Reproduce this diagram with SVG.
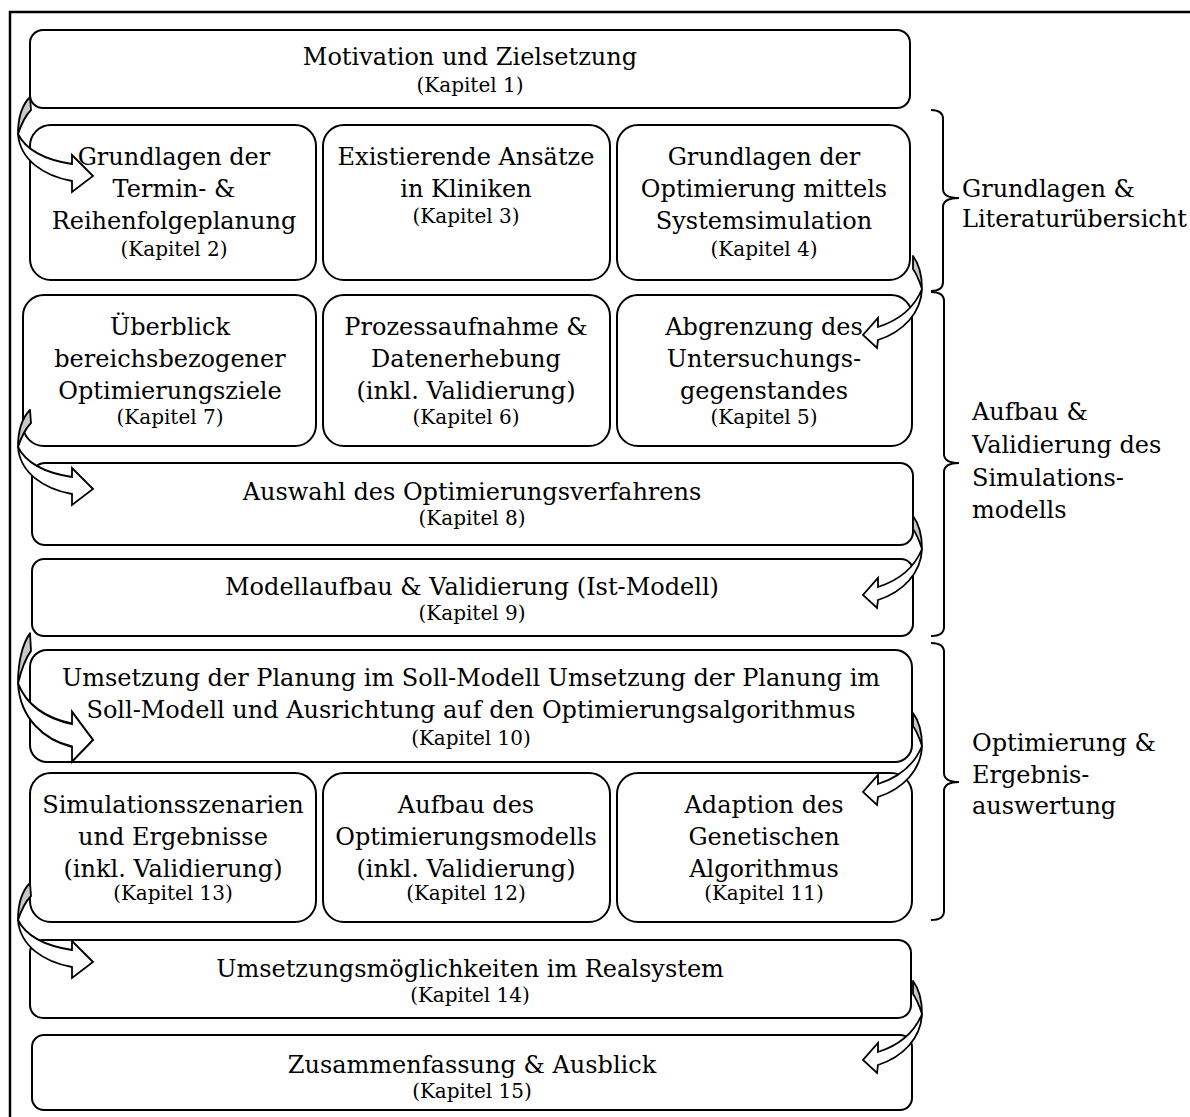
<svg xmlns="http://www.w3.org/2000/svg" width="1190" height="1117" viewBox="0 0 1190 1117">
  <defs>
    <style>
      .box { fill: #ffffff; stroke: #000000; stroke-width: 2; }
      .t { font-family: "DejaVu Serif", "Liberation Serif", serif; font-size: 24px; fill: #000000; text-anchor: middle; }
      .k { font-family: "DejaVu Serif", "Liberation Serif", serif; font-size: 20px; fill: #000000; text-anchor: middle; }
      .lbl { font-family: "DejaVu Serif", "Liberation Serif", serif; font-size: 24px; fill: #000000; }
      .brace { fill: none; stroke: #000000; stroke-width: 2; }
      .back { fill: #c8c8c8; stroke: #000000; stroke-width: 1.8; stroke-linejoin: round; }
      .front { fill: #ffffff; stroke: #000000; stroke-width: 1.8; stroke-linejoin: miter; }
    </style>
    <!-- curved arrow bending round the left side, tip at local (93,0) -->
    <g id="arrowL">
      <path class="back" d="M30,-79 C22,-71 18,-57 18,-42 C21,-51 26,-61 31,-66 Z"/>
      <path class="front" d="M18,-42 C20,-16 44,0 72,5 L72,16 L93,0 L72,-21 L72,-12 C46,-16 26,-26 18,-42 Z"/>
    </g>
    <!-- curved arrow bending round the right side, tip at local (863,0) -->
    <g id="arrowR">
      <path class="back" d="M913,-79 C919,-71 922,-59 922,-46 C919,-55 916,-62 913,-66 Z"/>
      <path class="front" d="M922,-46 C921,-22 903,-3 878,5 L877,13 L863,0 L878,-17 L878,-8 C900,-15 915,-29 922,-46 Z"/>
    </g>
  </defs>

  <rect width="1190" height="1117" fill="#ffffff"/>
  <!-- outer frame -->
  <path d="M10,1117 V12 H1190" fill="none" stroke="#000000" stroke-width="2.5"/>

  <g id="k1">
    <rect class="box" x="30" y="30" width="880" height="78" rx="13"/>
    <text class="t" x="470" y="65">Motivation und Zielsetzung</text>
    <text class="k" x="470" y="92">(Kapitel 1)</text>
  </g>

  <g id="k2">
    <rect class="box" x="30" y="125" width="286" height="155" rx="21"/>
    <text class="t" x="174" y="165">Grundlagen der</text>
    <text class="t" x="174" y="197">Termin- &amp;</text>
    <text class="t" x="174" y="229">Reihenfolgeplanung</text>
    <text class="k" x="174" y="256">(Kapitel 2)</text>
  </g>
  <g id="k3">
    <rect class="box" x="323" y="125" width="287" height="155" rx="21"/>
    <text class="t" x="466" y="165">Existierende Ansätze</text>
    <text class="t" x="466" y="197">in Kliniken</text>
    <text class="k" x="466" y="223">(Kapitel 3)</text>
  </g>
  <g id="k4">
    <rect class="box" x="617" y="125" width="293" height="155" rx="21"/>
    <text class="t" x="764" y="165">Grundlagen der</text>
    <text class="t" x="764" y="197">Optimierung mittels</text>
    <text class="t" x="764" y="229">Systemsimulation</text>
    <text class="k" x="764" y="256">(Kapitel 4)</text>
  </g>

  <g id="k7">
    <rect class="box" x="23" y="295" width="293" height="151" rx="21"/>
    <text class="t" x="170" y="335">Überblick</text>
    <text class="t" x="170" y="367">bereichsbezogener</text>
    <text class="t" x="170" y="399">Optimierungsziele</text>
    <text class="k" x="170" y="424">(Kapitel 7)</text>
  </g>
  <g id="k6">
    <rect class="box" x="323" y="295" width="287" height="151" rx="21"/>
    <text class="t" x="466" y="335">Prozessaufnahme &amp;</text>
    <text class="t" x="466" y="367">Datenerhebung</text>
    <text class="t" x="466" y="399">(inkl. Validierung)</text>
    <text class="k" x="466" y="424">(Kapitel 6)</text>
  </g>
  <g id="k5">
    <rect class="box" x="617" y="295" width="295" height="151" rx="21"/>
    <text class="t" x="764" y="335">Abgrenzung des</text>
    <text class="t" x="764" y="367">Untersuchungs-</text>
    <text class="t" x="764" y="399">gegenstandes</text>
    <text class="k" x="764" y="424">(Kapitel 5)</text>
  </g>

  <g id="k8">
    <rect class="box" x="32" y="463" width="881" height="82" rx="13"/>
    <text class="t" x="472" y="500">Auswahl des Optimierungsverfahrens</text>
    <text class="k" x="472" y="525">(Kapitel 8)</text>
  </g>
  <g id="k9">
    <rect class="box" x="32" y="559" width="881" height="77" rx="12"/>
    <text class="t" x="472" y="595">Modellaufbau &amp; Validierung (Ist-Modell)</text>
    <text class="k" x="472" y="620">(Kapitel 9)</text>
  </g>
  <g id="k10">
    <rect class="box" x="30" y="650" width="882" height="112" rx="17"/>
    <text class="t" x="471" y="686">Umsetzung der Planung im Soll-Modell Umsetzung der Planung im</text>
    <text class="t" x="471" y="718">Soll-Modell und Ausrichtung auf den Optimierungsalgorithmus</text>
    <text class="k" x="471" y="745">(Kapitel 10)</text>
  </g>

  <g id="k13">
    <rect class="box" x="30" y="773" width="286" height="149" rx="21"/>
    <text class="t" x="173" y="813">Simulationsszenarien</text>
    <text class="t" x="173" y="845">und Ergebnisse</text>
    <text class="t" x="173" y="877">(inkl. Validierung)</text>
    <text class="k" x="173" y="900">(Kapitel 13)</text>
  </g>
  <g id="k12">
    <rect class="box" x="323" y="773" width="287" height="149" rx="21"/>
    <text class="t" x="466" y="813">Aufbau des</text>
    <text class="t" x="466" y="845">Optimierungsmodells</text>
    <text class="t" x="466" y="877">(inkl. Validierung)</text>
    <text class="k" x="466" y="900">(Kapitel 12)</text>
  </g>
  <g id="k11">
    <rect class="box" x="617" y="773" width="295" height="149" rx="21"/>
    <text class="t" x="764" y="813">Adaption des</text>
    <text class="t" x="764" y="845">Genetischen</text>
    <text class="t" x="764" y="877">Algorithmus</text>
    <text class="k" x="764" y="900">(Kapitel 11)</text>
  </g>

  <g id="k14">
    <rect class="box" x="30" y="940" width="881" height="78" rx="13"/>
    <text class="t" x="470" y="977">Umsetzungsmöglichkeiten im Realsystem</text>
    <text class="k" x="470" y="1002">(Kapitel 14)</text>
  </g>
  <g id="k15">
    <rect class="box" x="32" y="1035" width="880" height="75" rx="12"/>
    <text class="t" x="472" y="1073">Zusammenfassung &amp; Ausblick</text>
    <text class="k" x="472" y="1098">(Kapitel 15)</text>
  </g>

  <!-- chapter groupings on the right -->
  <g id="group-grundlagen">
    <path class="brace" d="M931,110 Q943,110 943,119 V189 Q943,198 959,198 Q943,198 943,207 V282 Q943,291 931,291"/>
    <text class="lbl" x="962" y="197">Grundlagen &amp;</text>
    <text class="lbl" x="962" y="227">Literaturübersicht</text>
  </g>
  <g id="group-aufbau">
    <path class="brace" d="M931,292 Q944,292 944,301 V454 Q944,463 959,463 Q944,463 944,472 V627 Q944,636 931,636"/>
    <text class="lbl" x="972" y="420">Aufbau &amp;</text>
    <text class="lbl" x="972" y="453">Validierung des</text>
    <text class="lbl" x="972" y="486">Simulations-</text>
    <text class="lbl" x="972" y="518">modells</text>
  </g>
  <g id="group-optimierung">
    <path class="brace" d="M931,643 Q944,643 944,652 V773 Q944,782 959,782 Q944,782 944,791 V911 Q944,920 931,920"/>
    <text class="lbl" x="972" y="751">Optimierung &amp;</text>
    <text class="lbl" x="972" y="783">Ergebnis-</text>
    <text class="lbl" x="972" y="814">auswertung</text>
  </g>

  <!-- reading-order connectors -->
  <g id="connectors">
    <use href="#arrowL" transform="translate(0,176)"/>
    <use href="#arrowR" transform="translate(0,335)"/>
    <use href="#arrowL" transform="translate(0,489)"/>
    <use href="#arrowR" transform="translate(0,595)"/>
    <use href="#arrowL" transform="translate(0,740) scale(1,1.35)"/>
    <use href="#arrowR" transform="translate(0,792)"/>
    <use href="#arrowL" transform="translate(0,962)"/>
    <use href="#arrowR" transform="translate(0,1060)"/>
  </g>
</svg>
